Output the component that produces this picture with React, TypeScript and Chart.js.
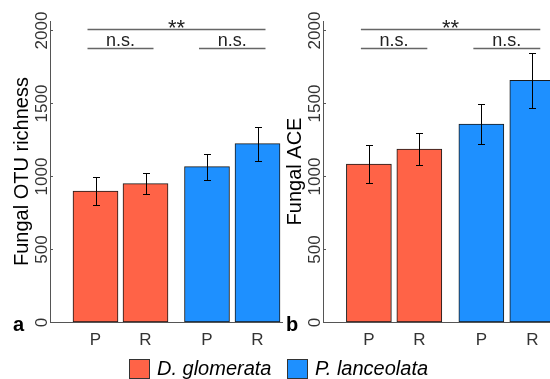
import React, { useEffect, useRef } from 'react';
import { Chart, registerables } from 'chart.js';

Chart.register(...registerables);

// ---------- data ----------
const categories = ['P', 'R', 'P', 'R'];
const xPositions = [1, 2, 3.23, 4.24];
const groupOf = [0, 0, 1, 1];
const species = ['D. glomerata', 'P. lanceolata'];
const speciesColors = ['#FF6347', '#1E90FF'];

const richnessMean = [897, 948, 1064, 1222];
const richnessErr = [95, 73, 89, 117];
const aceMean = [1082, 1185, 1356, 1655];
const aceErr = [129, 110, 137, 190];

const yTicks = [0, 500, 1000, 1500, 2000];
const yMax = 2062;

const bracketFrom = [0, 2, 0];
const bracketTo = [1, 3, 3];
const bracketY = [1879, 1879, 2009];
const bracketLabels = ['n.s.', 'n.s.', '**'];

// ---------- style ----------
const FONT = '"Liberation Sans", Arial, Helvetica, sans-serif';
const AXIS = '#555555';

type Panel = {
  means: number[];
  errs: number[];
  title: string;
  letter: string;
};

function makePlugin(p: Panel) {
  return {
    id: 'annot',
    afterDraw(chart: any) {
      const ctx: CanvasRenderingContext2D = chart.ctx;
      const xs = chart.scales.x;
      const ys = chart.scales.y;
      const area = chart.chartArea;
      ctx.save();

      // error bars
      ctx.strokeStyle = '#000';
      ctx.lineWidth = 1;
      for (let i = 0; i < p.means.length; i++) {
        const px = Math.round(xs.getPixelForValue(xPositions[i])) + 0.5;
        const t = Math.round(ys.getPixelForValue(p.means[i] + p.errs[i])) + 0.5;
        const b = Math.round(ys.getPixelForValue(p.means[i] - p.errs[i])) + 0.5;
        ctx.beginPath();
        ctx.moveTo(px, t);
        ctx.lineTo(px, b);
        ctx.moveTo(px - 3.5, t);
        ctx.lineTo(px + 3.5, t);
        ctx.moveTo(px - 3.5, b);
        ctx.lineTo(px + 3.5, b);
        ctx.stroke();
      }

      // y tick marks and labels
      ctx.strokeStyle = AXIS;
      ctx.fillStyle = '#333';
      ctx.font = `17px ${FONT}`;
      for (const v of yTicks) {
        const py = Math.round(ys.getPixelForValue(v)) + 0.5;
        ctx.beginPath();
        ctx.moveTo(area.left, py);
        ctx.lineTo(area.left + 3, py);
        ctx.stroke();
        ctx.save();
        ctx.translate(area.left - 3, py);
        ctx.rotate(-Math.PI / 2);
        ctx.textAlign = 'center';
        ctx.textBaseline = 'alphabetic';
        ctx.fillText(String(v), 0, 0);
        ctx.restore();
      }

      // x labels
      ctx.textAlign = 'center';
      ctx.textBaseline = 'alphabetic';
      for (let i = 0; i < categories.length; i++) {
        ctx.fillText(categories[i], xs.getPixelForValue(xPositions[i]), 345);
      }

      // y title
      ctx.fillStyle = '#000';
      ctx.font = `20px ${FONT}`;
      ctx.save();
      ctx.translate(area.left - 22, (area.top + area.bottom) / 2);
      ctx.rotate(-Math.PI / 2);
      ctx.textAlign = 'center';
      ctx.fillText(p.title, 0, 0);
      ctx.restore();

      // panel letter
      ctx.font = `bold 20px ${FONT}`;
      ctx.textAlign = 'left';
      ctx.fillText(p.letter, area.left - 37, 331);

      // brackets
      for (let k = 0; k < bracketLabels.length; k++) {
        const x1 = xs.getPixelForValue(xPositions[bracketFrom[k]]) - 8;
        const x2 = xs.getPixelForValue(xPositions[bracketTo[k]]) + 8;
        const yy = Math.round(ys.getPixelForValue(bracketY[k])) + 0.5;
        ctx.strokeStyle = '#666';
        ctx.lineWidth = 1.5;
        ctx.beginPath();
        ctx.moveTo(x1, yy);
        ctx.lineTo(x2, yy);
        ctx.stroke();
        ctx.fillStyle = '#222';
        ctx.textAlign = 'center';
        if (bracketLabels[k] === '**') {
          ctx.font = `22px ${FONT}`;
          ctx.fillText(bracketLabels[k], (x1 + x2) / 2, yy + 5);
        } else {
          ctx.font = `18px ${FONT}`;
          ctx.fillText(bracketLabels[k], (x1 + x2) / 2, yy - 3);
        }
      }
      ctx.restore();
    },
  };
}

function makeConfig(p: Panel, rightPad: number): any {
  return {
    type: 'bar',
    data: {
      datasets: [
        {
          data: xPositions.map((x, i) => ({ x, y: p.means[i] })),
          backgroundColor: groupOf.map((g) => speciesColors[g]),
          borderColor: '#1a1a1a',
          borderWidth: 1,
          borderSkipped: false,
          barThickness: 45,
        },
      ],
    },
    options: {
      responsive: false,
      animation: false,
      events: [],
      layout: { padding: { top: 21, right: rightPad, left: 0, bottom: 0 } },
      plugins: { legend: { display: false }, tooltip: { enabled: false } },
      scales: {
        x: {
          type: 'linear',
          min: 0.09,
          max: 4.73,
          offset: false,
          grid: { display: false },
          ticks: { display: false },
          border: { display: true, color: AXIS, width: 1 },
          afterFit: (s: any) => {
            s.height = 57;
          },
        },
        y: {
          type: 'linear',
          min: 0,
          max: yMax,
          grid: { display: false },
          ticks: { display: false },
          border: { display: true, color: AXIS, width: 1 },
          afterBuildTicks: (s: any) => {
            s.ticks = yTicks.map((v) => ({ value: v }));
          },
          afterFit: (s: any) => {
            s.width = 50;
          },
        },
      },
    },
    plugins: [makePlugin(p)],
  };
}

function PanelChart({ p, left, width }: { p: Panel; left: number; width: number }) {
  const ref = useRef<HTMLCanvasElement>(null);
  useEffect(() => {
    if (!ref.current) return;
    const chart = new Chart(ref.current, makeConfig(p, 2));
    return () => chart.destroy();
  }, []);
  return (
    <canvas
      ref={ref}
      width={width}
      height={379}
      style={{ position: 'absolute', left, top: 0, width, height: 379, display: 'block' }}
    />
  );
}

const panelA: Panel = { means: richnessMean, errs: richnessErr, title: 'Fungal OTU richness', letter: 'a' };
const panelB: Panel = { means: aceMean, errs: aceErr, title: 'Fungal ACE', letter: 'b' };

const legendLeft = [129, 287];

export default function App() {
  return (
    <div
      style={{
        position: 'absolute',
        left: 0,
        top: 0,
        width: 550,
        height: 379,
        overflow: 'hidden',
        background: '#fff',
      }}
    >
      <PanelChart p={panelA} left={0} width={284} />
      <PanelChart p={panelB} left={273} width={286} />
      {species.map((s, i) => (
        <React.Fragment key={s}>
          <div
            style={{
              position: 'absolute',
              left: legendLeft[i],
              top: 359,
              width: 19,
              height: 18,
              background: speciesColors[i],
              border: '1px solid #333',
            }}
          />
          <span
            style={{
              position: 'absolute',
              left: legendLeft[i] + 28,
              top: 358,
              font: `italic 20px ${FONT}`,
              lineHeight: '20px',
              color: '#000',
              whiteSpace: 'nowrap',
            }}
          >
            {s}
          </span>
        </React.Fragment>
      ))}
    </div>
  );
}
